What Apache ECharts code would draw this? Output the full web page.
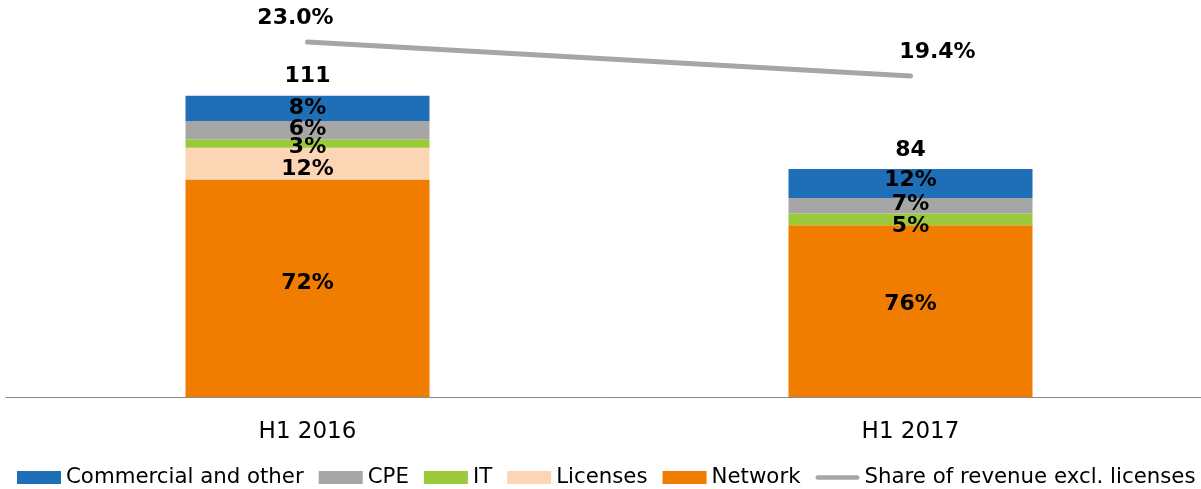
<!DOCTYPE html>
<html>
<head>
<meta charset="utf-8">
<script src="https://cdn.jsdelivr.net/npm/echarts@6/dist/echarts.min.js"></script>
<style>
html,body{margin:0;padding:0;background:#fff;}
#c{width:1201px;height:489px;}
</style>
</head>
<body>
<div id="c"></div>
<script>
// ---- data ----
var categories = ['H1 2016', 'H1 2017'];
var commercial = [9.3, 10.7];
var cpe = [6.7, 5.7];
var it = [3.2, 4.3];
var licenses = [11.7, 0];
var network = [80.1, 63.3];
var totals = [111, 84];
var pctCommercial = ['8%', '12%'];
var pctCpe = ['6%', '7%'];
var pctIt = ['3%', '5%'];
var pctLicenses = ['12%', ''];
var pctNetwork = ['72%', '76%'];
var shareExclLicenses = [23.0, 19.4];
var shareLabels = ['23.0%', '19.4%'];

// ---- styling ----
var FONT = '"DejaVu Sans", Verdana, sans-serif';
var labelFont = {fontFamily: FONT, fontWeight: 'bold', fontSize: 22, color: '#000'};

function withOffsets(values, labels, offsets) {
  return values.map(function (v, i) {
    return {value: v, label: {formatter: labels[i], offset: [0, offsets[i]]}};
  });
}

function barSeries(name, values, labels, color, offsets) {
  return {
    name: name,
    type: 'bar',
    stack: 'total',
    barWidth: 244,
    itemStyle: {color: color},
    label: Object.assign({show: true, position: 'inside'}, labelFont),
    data: withOffsets(values, labels, offsets),
    z: 2
  };
}

var chart = echarts.init(document.getElementById('c'), null, {renderer: 'canvas'});
chart.setOption({
  animation: false,
  backgroundColor: '#fff',
  grid: {left: 6, right: -11, top: 17, bottom: 92, outerBoundsMode: 'none', containLabel: false},
  xAxis: {
    type: 'category',
    data: categories,
    axisLine: {show: true, lineStyle: {color: '#898989', width: 1}},
    axisTick: {show: false},
    axisLabel: {fontFamily: FONT, fontSize: 23, color: '#000', margin: 24}
  },
  yAxis: [
    {type: 'value', min: 0, max: 140, show: false, splitLine: {show: false}},
    {type: 'value', min: -14.6, max: 25.65, show: false, splitLine: {show: false}}
  ],
  legend: {
    left: 12,
    top: 462,
    width: 2000,
    itemWidth: 44,
    itemHeight: 13,
    itemGap: 15,
    textStyle: {fontFamily: FONT, fontSize: 21.3, color: '#000'},
    data: [
      {name: 'Commercial and other', icon: 'rect'},
      {name: 'CPE', icon: 'rect'},
      {name: 'IT', icon: 'rect'},
      {name: 'Licenses', icon: 'rect'},
      {name: 'Network', icon: 'rect'},
      {name: 'Share of revenue excl. licenses',
       icon: 'path://M2.5,0 L44.5,0 A2.5,2.5 0 0 1 44.5,5 L2.5,5 A2.5,2.5 0 0 1 2.5,0 Z'}
    ]
  },
  series: [
    barSeries('Network', network, pctNetwork, '#F07D00', [-4.6, -7]),
    barSeries('Licenses', licenses, pctLicenses, '#FCD5B5', [6, 0]),
    barSeries('IT', it, pctIt, '#9ACA3C', [3.3, 7]),
    barSeries('CPE', cpe, pctCpe, '#A6A6A6', [-1, -1]),
    barSeries('Commercial and other', commercial, pctCommercial, '#1F6FB8', [0, -3]),
    {
      name: 'totals',
      type: 'scatter',
      symbolSize: 0,
      itemStyle: {opacity: 1},
      data: totals,
      label: Object.assign({show: true, position: 'top', distance: 8}, labelFont),
      z: 3
    },
    {
      name: 'Share of revenue excl. licenses',
      type: 'line',
      yAxisIndex: 1,
      symbol: 'none',
      lineStyle: {color: '#A6A6A6', width: 5, cap: 'round'},
      itemStyle: {color: '#A6A6A6'},
      data: shareExclLicenses,
      z: 4
    },
    {
      name: 'shareLabels',
      type: 'scatter',
      yAxisIndex: 1,
      symbolSize: 0,
      itemStyle: {opacity: 1},
      label: Object.assign({show: true, position: 'top', distance: 5}, labelFont),
      data: shareExclLicenses.map(function (v, i) {
        return {value: v, label: {formatter: shareLabels[i], offset: [i === 0 ? -12 : 27, -8]}};
      }),
      z: 5
    }
  ]
});
</script>
</body>
</html>
